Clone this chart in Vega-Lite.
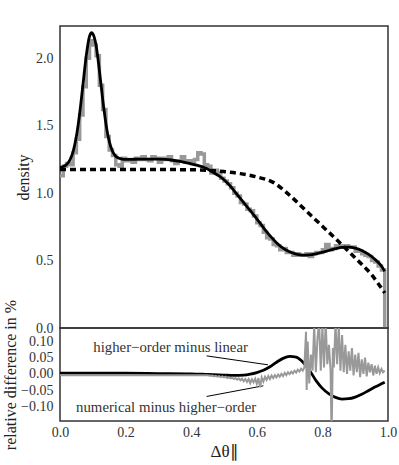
{
  "$schema": "https://vega.github.io/schema/vega-lite/v6.json",
  "padding": {"left": 1, "top": 23, "right": 5, "bottom": 5},
  "spacing": 0,
  "bounds": "flush",
  "datasets": {
    "hist": [
      {"x":0.00,"y":1.13},{"x":0.01,"y":1.20},{"x":0.02,"y":1.22},{"x":0.03,"y":1.21},{"x":0.04,"y":1.30},
      {"x":0.05,"y":1.40},{"x":0.06,"y":1.58},{"x":0.07,"y":1.79},{"x":0.08,"y":2.00},{"x":0.09,"y":2.13},
      {"x":0.10,"y":2.10},{"x":0.11,"y":2.02},{"x":0.12,"y":1.80},{"x":0.13,"y":1.62},{"x":0.14,"y":1.42},
      {"x":0.15,"y":1.32},{"x":0.16,"y":1.28},{"x":0.17,"y":1.21},{"x":0.18,"y":1.20},{"x":0.19,"y":1.26},
      {"x":0.20,"y":1.24},{"x":0.21,"y":1.25},{"x":0.22,"y":1.23},{"x":0.23,"y":1.26},{"x":0.24,"y":1.25},
      {"x":0.25,"y":1.27},{"x":0.26,"y":1.25},{"x":0.27,"y":1.24},{"x":0.28,"y":1.27},{"x":0.29,"y":1.26},
      {"x":0.30,"y":1.23},{"x":0.31,"y":1.26},{"x":0.32,"y":1.25},{"x":0.33,"y":1.27},{"x":0.34,"y":1.24},
      {"x":0.35,"y":1.22},{"x":0.36,"y":1.24},{"x":0.37,"y":1.27},{"x":0.38,"y":1.23},{"x":0.39,"y":1.24},
      {"x":0.40,"y":1.22},{"x":0.41,"y":1.25},{"x":0.42,"y":1.30},{"x":0.43,"y":1.29},{"x":0.44,"y":1.21},
      {"x":0.45,"y":1.20},{"x":0.46,"y":1.15},{"x":0.47,"y":1.17},{"x":0.48,"y":1.15},{"x":0.49,"y":1.11},
      {"x":0.50,"y":1.09},{"x":0.51,"y":1.07},{"x":0.52,"y":1.04},{"x":0.53,"y":1.00},{"x":0.54,"y":0.98},
      {"x":0.55,"y":0.93},{"x":0.56,"y":0.92},{"x":0.57,"y":0.88},{"x":0.58,"y":0.87},{"x":0.59,"y":0.83},
      {"x":0.60,"y":0.78},{"x":0.61,"y":0.76},{"x":0.62,"y":0.71},{"x":0.63,"y":0.67},{"x":0.64,"y":0.66},
      {"x":0.65,"y":0.62},{"x":0.66,"y":0.61},{"x":0.67,"y":0.58},{"x":0.68,"y":0.59},{"x":0.69,"y":0.56},
      {"x":0.70,"y":0.56},{"x":0.71,"y":0.54},{"x":0.72,"y":0.55},{"x":0.73,"y":0.54},{"x":0.74,"y":0.54},
      {"x":0.75,"y":0.55},{"x":0.76,"y":0.53},{"x":0.77,"y":0.55},{"x":0.78,"y":0.56},{"x":0.79,"y":0.56},
      {"x":0.80,"y":0.58},{"x":0.81,"y":0.62},{"x":0.82,"y":0.58},{"x":0.83,"y":0.59},{"x":0.84,"y":0.61},
      {"x":0.85,"y":0.61},{"x":0.86,"y":0.60},{"x":0.87,"y":0.61},{"x":0.88,"y":0.60},{"x":0.89,"y":0.60},
      {"x":0.90,"y":0.57},{"x":0.91,"y":0.57},{"x":0.92,"y":0.55},{"x":0.93,"y":0.54},{"x":0.94,"y":0.53},
      {"x":0.95,"y":0.50},{"x":0.96,"y":0.49},{"x":0.97,"y":0.46},{"x":0.98,"y":0.43},{"x":0.99,"y":0}
    ],
    "solid": [
      {"x":0.00,"y":1.191},{"x":0.01,"y":1.198},{"x":0.02,"y":1.213},{"x":0.03,"y":1.246},{"x":0.04,"y":1.309},
      {"x":0.05,"y":1.422},{"x":0.06,"y":1.592},{"x":0.07,"y":1.805},{"x":0.08,"y":2.018},{"x":0.09,"y":2.164},
      {"x":0.097,"y":2.19},{"x":0.10,"y":2.183},{"x":0.11,"y":2.097},{"x":0.12,"y":1.912},{"x":0.13,"y":1.699},
      {"x":0.14,"y":1.516},{"x":0.15,"y":1.386},{"x":0.16,"y":1.311},{"x":0.17,"y":1.274},{"x":0.18,"y":1.259},
      {"x":0.19,"y":1.253},{"x":0.20,"y":1.251},{"x":0.22,"y":1.251},{"x":0.24,"y":1.252},{"x":0.26,"y":1.252},
      {"x":0.28,"y":1.252},{"x":0.30,"y":1.252},{"x":0.32,"y":1.250},{"x":0.34,"y":1.246},{"x":0.36,"y":1.238},
      {"x":0.38,"y":1.228},{"x":0.40,"y":1.218},{"x":0.42,"y":1.206},{"x":0.44,"y":1.19},{"x":0.46,"y":1.165},
      {"x":0.48,"y":1.135},{"x":0.50,"y":1.10},{"x":0.52,"y":1.05},{"x":0.54,"y":0.99},{"x":0.56,"y":0.93},
      {"x":0.58,"y":0.87},{"x":0.60,"y":0.81},{"x":0.62,"y":0.745},{"x":0.64,"y":0.685},{"x":0.66,"y":0.633},
      {"x":0.68,"y":0.592},{"x":0.70,"y":0.565},{"x":0.72,"y":0.548},{"x":0.74,"y":0.54},{"x":0.76,"y":0.542},
      {"x":0.78,"y":0.55},{"x":0.80,"y":0.562},{"x":0.82,"y":0.575},{"x":0.84,"y":0.588},{"x":0.86,"y":0.598},
      {"x":0.88,"y":0.60},{"x":0.90,"y":0.592},{"x":0.92,"y":0.575},{"x":0.94,"y":0.548},{"x":0.96,"y":0.51},
      {"x":0.98,"y":0.46},{"x":0.99,"y":0.42}
    ],
    "dashed": [
      {"x":0.0,"y":1.175},{"x":0.1,"y":1.175},{"x":0.2,"y":1.175},{"x":0.3,"y":1.175},{"x":0.4,"y":1.174},
      {"x":0.45,"y":1.17},{"x":0.5,"y":1.16},{"x":0.55,"y":1.145},{"x":0.6,"y":1.12},{"x":0.65,"y":1.08},
      {"x":0.7,"y":0.985},{"x":0.75,"y":0.87},{"x":0.8,"y":0.755},{"x":0.85,"y":0.64},{"x":0.9,"y":0.52},
      {"x":0.95,"y":0.395},{"x":0.99,"y":0.26}
    ],
    "diffBlack": [
      {"x":0.0,"y":0.002},{"x":0.1,"y":0.002},{"x":0.2,"y":0.002},{"x":0.3,"y":0.001},{"x":0.4,"y":0.0},
      {"x":0.45,"y":-0.002},{"x":0.5,"y":-0.004},{"x":0.53,"y":-0.005},{"x":0.56,"y":-0.004},{"x":0.58,"y":-0.001},
      {"x":0.60,"y":0.004},{"x":0.62,"y":0.011},{"x":0.64,"y":0.022},{"x":0.66,"y":0.036},{"x":0.68,"y":0.048},
      {"x":0.70,"y":0.054},{"x":0.72,"y":0.052},{"x":0.74,"y":0.037},{"x":0.76,"y":0.012},{"x":0.78,"y":-0.02},
      {"x":0.80,"y":-0.045},{"x":0.82,"y":-0.062},{"x":0.84,"y":-0.073},{"x":0.86,"y":-0.078},{"x":0.88,"y":-0.077},
      {"x":0.90,"y":-0.072},{"x":0.92,"y":-0.063},{"x":0.94,"y":-0.052},{"x":0.96,"y":-0.041},{"x":0.98,"y":-0.031},
      {"x":0.99,"y":-0.026}
    ],
    "diffGray": [
      {"x":0.0,"y":-0.004},{"x":0.1,"y":-0.004},{"x":0.2,"y":-0.004},{"x":0.3,"y":-0.004},{"x":0.4,"y":-0.004},
      {"x":0.450,"y":-0.004},{"x":0.455,"y":-0.005},{"x":0.460,"y":-0.006},{"x":0.465,"y":-0.005},{"x":0.470,"y":-0.008},
      {"x":0.475,"y":-0.006},{"x":0.480,"y":-0.009},{"x":0.485,"y":-0.007},{"x":0.490,"y":-0.010},{"x":0.495,"y":-0.008},
      {"x":0.500,"y":-0.011},{"x":0.505,"y":-0.009},{"x":0.510,"y":-0.013},{"x":0.515,"y":-0.011},{"x":0.520,"y":-0.014},
      {"x":0.525,"y":-0.012},{"x":0.530,"y":-0.016},{"x":0.535,"y":-0.013},{"x":0.540,"y":-0.018},{"x":0.545,"y":-0.014},
      {"x":0.550,"y":-0.020},{"x":0.555,"y":-0.015},{"x":0.560,"y":-0.023},{"x":0.565,"y":-0.016},{"x":0.570,"y":-0.025},
      {"x":0.575,"y":-0.016},{"x":0.580,"y":-0.029},{"x":0.585,"y":-0.017},{"x":0.590,"y":-0.026},{"x":0.595,"y":-0.015},
      {"x":0.600,"y":-0.031},{"x":0.605,"y":-0.013},{"x":0.610,"y":-0.042},{"x":0.615,"y":-0.011},{"x":0.620,"y":-0.024},
      {"x":0.625,"y":-0.009},{"x":0.630,"y":-0.019},{"x":0.635,"y":-0.007},{"x":0.640,"y":-0.016},{"x":0.645,"y":-0.005},
      {"x":0.650,"y":-0.013},{"x":0.655,"y":-0.004},{"x":0.660,"y":-0.011},{"x":0.665,"y":-0.002},{"x":0.670,"y":-0.009},
      {"x":0.675,"y":0.000},{"x":0.680,"y":-0.007},{"x":0.685,"y":0.003},{"x":0.690,"y":-0.004},{"x":0.695,"y":0.005},
      {"x":0.700,"y":-0.001},{"x":0.705,"y":0.007},{"x":0.710,"y":0.001},{"x":0.715,"y":0.010},{"x":0.720,"y":0.004},
      {"x":0.725,"y":0.013},{"x":0.730,"y":0.007},{"x":0.735,"y":0.016},{"x":0.740,"y":0.010},{"x":0.745,"y":0.020},
      {"x":0.750,"y":0.130},{"x":0.752,"y":-0.050},{"x":0.755,"y":0.100},{"x":0.760,"y":-0.030},{"x":0.765,"y":0.060},
      {"x":0.770,"y":0.010},{"x":0.775,"y":0.150},{"x":0.780,"y":0.005},{"x":0.785,"y":0.110},{"x":0.790,"y":0.160},
      {"x":0.795,"y":0.010},{"x":0.800,"y":0.150},{"x":0.805,"y":0.020},{"x":0.810,"y":0.160},{"x":0.815,"y":0.030},
      {"x":0.820,"y":0.090},{"x":0.825,"y":0.010},{"x":0.828,"y":-0.200},{"x":0.832,"y":0.080},{"x":0.835,"y":0.020},
      {"x":0.840,"y":0.160},{"x":0.845,"y":0.030},{"x":0.850,"y":0.150},{"x":0.855,"y":0.010},{"x":0.860,"y":0.120},
      {"x":0.865,"y":0.005},{"x":0.870,"y":0.090},{"x":0.875,"y":0.000},{"x":0.880,"y":0.070},{"x":0.885,"y":0.010},
      {"x":0.890,"y":0.080},{"x":0.895,"y":-0.005},{"x":0.900,"y":0.060},{"x":0.905,"y":0.005},{"x":0.910,"y":0.065},
      {"x":0.915,"y":-0.010},{"x":0.920,"y":0.045},{"x":0.925,"y":0.000},{"x":0.930,"y":0.050},{"x":0.935,"y":-0.008},
      {"x":0.940,"y":0.035},{"x":0.945,"y":0.005},{"x":0.950,"y":0.030},{"x":0.955,"y":-0.005},{"x":0.960,"y":0.025},
      {"x":0.965,"y":0.000},{"x":0.970,"y":0.020},{"x":0.975,"y":0.002},{"x":0.980,"y":0.015},{"x":0.985,"y":0.005},
      {"x":0.990,"y":0.010}
    ],
    "notes": [
      {"x":0.1015,"y":0.067,"label":"higher−order minus linear"},
      {"x":0.049,"y":-0.1195,"label":"numerical minus higher−order"}
    ],
    "leaders": [
      {"x":0.447,"y":0.0557,"x2":0.634,"y2":0.028},
      {"x":0.447,"y":-0.070,"x2":0.62,"y2":-0.037}
    ]
  },
  "vconcat": [
    {
      "width": 328,
      "height": 302,
      "layer": [
        {
          "layer": [
            {
              "data": {"name": "hist"},
              "mark": {"type": "line", "interpolate": "step-after", "color": "#999999", "strokeWidth": 3.5, "clip": true},
              "encoding": {
                "x": {"field": "x", "type": "quantitative", "scale": {"domain": [0, 1], "nice": false, "zero": false},
                  "axis": {"orient": "bottom", "labels": false, "title": null, "tickCount": 200,
                    "values": [0,0.04,0.08,0.12,0.16,0.2,0.24,0.28,0.32,0.36,0.4,0.44,0.48,0.52,0.56,0.6,0.64,0.68,0.72,0.76,0.8,0.84,0.88,0.92,0.96,1],
                    "encode": {"ticks": {"update": {"y2": {"signal": "abs(datum.value*5-round(datum.value*5))<1e-6 ? -4.5 : -2.5"}}}}}},
                "y": {"field": "y", "type": "quantitative", "scale": {"domain": [0, 2.24], "nice": false, "zero": false},
                  "axis": {"orient": "left", "title": "density", "titlePadding": 4, "format": ".1f", "labelOverlap": false, "tickCount": 200, "labelPadding": 7,
                    "values": [0,0.1,0.2,0.3,0.4,0.5,0.6,0.7,0.8,0.9,1,1.1,1.2,1.3,1.4,1.5,1.6,1.7,1.8,1.9,2,2.1,2.2],
                    "labelExpr": "abs(datum.value*2-round(datum.value*2))<1e-6 ? datum.label : ''",
                    "encode": {"ticks": {"update": {"x2": {"signal": "abs(datum.value*2-round(datum.value*2))<1e-6 ? 4.5 : 2.5"}}}}}}
              }
            },
            {
              "data": {"name": "solid"},
              "mark": {"type": "line", "interpolate": "monotone", "color": "#000000", "strokeWidth": 2.8, "clip": true},
              "encoding": {
                "x": {"field": "x", "type": "quantitative", "scale": {"domain": [0, 1], "nice": false, "zero": false}},
                "y": {"field": "y", "type": "quantitative", "scale": {"domain": [0, 2.24], "nice": false, "zero": false}}
              }
            }
          ]
        },
        {
          "data": {"name": "dashed"},
          "mark": {"type": "line", "interpolate": "monotone", "color": "#000000", "strokeWidth": 3.5, "strokeDash": [6, 4], "clip": true},
          "encoding": {
            "x": {"field": "x", "type": "quantitative", "scale": {"domain": [0, 1], "nice": false, "zero": false},
              "axis": {"orient": "top", "labels": false, "title": null, "tickCount": 200,
                "values": [0,0.04,0.08,0.12,0.16,0.2,0.24,0.28,0.32,0.36,0.4,0.44,0.48,0.52,0.56,0.6,0.64,0.68,0.72,0.76,0.8,0.84,0.88,0.92,0.96,1],
                "encode": {"ticks": {"update": {"y2": {"signal": "abs(datum.value*5-round(datum.value*5))<1e-6 ? 4.5 : 2.5"}}}}}},
            "y": {"field": "y", "type": "quantitative", "scale": {"domain": [0, 2.24], "nice": false, "zero": false},
              "axis": {"orient": "right", "labels": false, "title": null, "tickCount": 200,
                "values": [0,0.1,0.2,0.3,0.4,0.5,0.6,0.7,0.8,0.9,1,1.1,1.2,1.3,1.4,1.5,1.6,1.7,1.8,1.9,2,2.1,2.2],
                "encode": {"ticks": {"update": {"x2": {"signal": "abs(datum.value*2-round(datum.value*2))<1e-6 ? -4.5 : -2.5"}}}}}}
          }
        }
      ],
      "resolve": {"scale": {"x": "independent", "y": "independent"}}
    },
    {
      "width": 328,
      "height": 93,
      "layer": [
        {
          "layer": [
            {
              "data": {"name": "diffBlack"},
              "mark": {"type": "line", "interpolate": "monotone", "color": "#000000", "strokeWidth": 2.8, "clip": true},
              "encoding": {
                "x": {"field": "x", "type": "quantitative", "scale": {"domain": [0, 1], "nice": false, "zero": false},
                  "axis": {"orient": "bottom", "title": "Δθ∥", "titlePadding": 4, "titleFontSize": 17, "format": ".1f", "labelOverlap": false, "tickCount": 200, "labelPadding": 4,
                    "values": [0,0.04,0.08,0.12,0.16,0.2,0.24,0.28,0.32,0.36,0.4,0.44,0.48,0.52,0.56,0.6,0.64,0.68,0.72,0.76,0.8,0.84,0.88,0.92,0.96,1],
                    "labelExpr": "abs(datum.value*5-round(datum.value*5))<1e-6 ? datum.label : ''",
                    "encode": {"ticks": {"update": {"y2": {"signal": "abs(datum.value*5-round(datum.value*5))<1e-6 ? -4.5 : -2.5"}}}}}},
                "y": {"field": "y", "type": "quantitative", "scale": {"domain": [-0.146, 0.142], "nice": false, "zero": false},
                  "axis": {"orient": "left", "title": "relative difference in %", "titlePadding": 2, "format": ".2f", "labelOverlap": false, "tickCount": 200, "labelPadding": 7,
                    "values": [-0.14,-0.13,-0.12,-0.11,-0.1,-0.09,-0.08,-0.07,-0.06,-0.05,-0.04,-0.03,-0.02,-0.01,0,0.01,0.02,0.03,0.04,0.05,0.06,0.07,0.08,0.09,0.1,0.11,0.12,0.13,0.14],
                    "labelExpr": "abs(datum.value*20-round(datum.value*20))<1e-6 ? datum.label : ''",
                    "encode": {"ticks": {"update": {"x2": {"signal": "abs(datum.value*20-round(datum.value*20))<1e-6 ? 4.5 : 2.5"}}}}}}
              }
            },
            {
              "data": {"name": "leaders"},
              "mark": {"type": "rule", "color": "#000000", "strokeWidth": 1},
              "encoding": {
                "x": {"field": "x", "type": "quantitative", "scale": {"domain": [0, 1], "nice": false, "zero": false}},
                "x2": {"field": "x2"},
                "y": {"field": "y", "type": "quantitative", "scale": {"domain": [-0.146, 0.142], "nice": false, "zero": false}},
                "y2": {"field": "y2"}
              }
            },
            {
              "data": {"name": "notes"},
              "mark": {"type": "text", "align": "left", "baseline": "alphabetic", "font": "Liberation Serif", "fontSize": 14.8, "color": "#333333"},
              "encoding": {
                "x": {"field": "x", "type": "quantitative", "scale": {"domain": [0, 1], "nice": false, "zero": false}},
                "y": {"field": "y", "type": "quantitative", "scale": {"domain": [-0.146, 0.142], "nice": false, "zero": false}},
                "text": {"field": "label"}
              }
            }
          ]
        },
        {
          "data": {"name": "diffGray"},
          "mark": {"type": "line", "color": "#999999", "strokeWidth": 2, "clip": true},
          "encoding": {
            "x": {"field": "x", "type": "quantitative", "scale": {"domain": [0, 1], "nice": false, "zero": false},
              "axis": {"orient": "top", "labels": false, "title": null, "tickCount": 200,
                "values": [0,0.04,0.08,0.12,0.16,0.2,0.24,0.28,0.32,0.36,0.4,0.44,0.48,0.52,0.56,0.6,0.64,0.68,0.72,0.76,0.8,0.84,0.88,0.92,0.96,1],
                "encode": {"ticks": {"update": {"y2": {"signal": "abs(datum.value*5-round(datum.value*5))<1e-6 ? 4.5 : 2.5"}}}}}},
            "y": {"field": "y", "type": "quantitative", "scale": {"domain": [-0.146, 0.142], "nice": false, "zero": false},
              "axis": {"orient": "right", "labels": false, "title": null, "tickCount": 200,
                "values": [-0.14,-0.13,-0.12,-0.11,-0.1,-0.09,-0.08,-0.07,-0.06,-0.05,-0.04,-0.03,-0.02,-0.01,0,0.01,0.02,0.03,0.04,0.05,0.06,0.07,0.08,0.09,0.1,0.11,0.12,0.13,0.14],
                "encode": {"ticks": {"update": {"x2": {"signal": "abs(datum.value*20-round(datum.value*20))<1e-6 ? -4.5 : -2.5"}}}}}}
          }
        }
      ],
      "resolve": {"scale": {"x": "independent", "y": "independent"}}
    }
  ],
  "config": {
    "font": "Liberation Serif",
    "view": {"stroke": "#333333", "strokeWidth": 1.5},
    "axis": {
      "labelFont": "Liberation Serif", "labelFontSize": 14, "labelColor": "#333333",
      "titleFont": "Liberation Serif", "titleFontSize": 16, "titleFontWeight": "normal", "titleColor": "#222222",
      "grid": false, "domain": false, "tickColor": "#333333", "tickWidth": 1, "tickSize": 0.01,
      "labelOverlap": false, "labelFlush": false, "labelPadding": 7, "minExtent": 0
    }
  }
}
